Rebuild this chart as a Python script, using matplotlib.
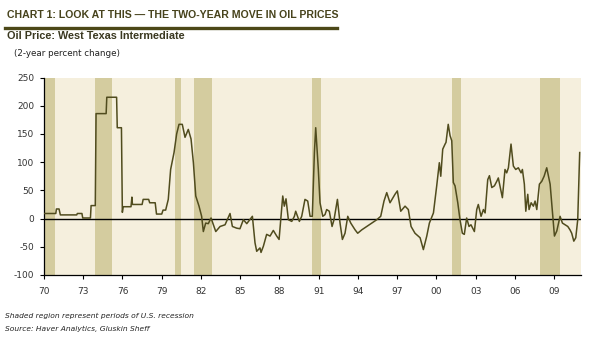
import matplotlib
matplotlib.use("Agg")
import matplotlib.pyplot as plt
from matplotlib.lines import Line2D

# ---------------- data ----------------
years = [
    1970.0, 1970.9, 1970.95, 1971.15, 1971.25, 1972.5, 1972.55, 1972.9, 1972.96, 1973.55,
    1973.6, 1973.92, 1973.98, 1974.75, 1974.8, 1975.55, 1975.6, 1975.92, 1975.99, 1976.05,
    1976.65, 1976.72, 1976.76, 1977.5, 1977.58, 1978.0, 1978.08, 1978.5, 1978.6, 1979.0,
    1979.1, 1979.3, 1979.5, 1979.68, 1979.94, 1980.14, 1980.32, 1980.57, 1980.78, 1981.03,
    1981.24, 1981.42, 1981.6, 1981.85, 1982.05, 1982.18, 1982.36, 1982.56, 1982.77, 1983.13,
    1983.46, 1983.84, 1984.22, 1984.4, 1984.73, 1984.98, 1985.24, 1985.5, 1985.93, 1986.13,
    1986.26, 1986.51, 1986.59, 1986.77, 1987.02, 1987.28, 1987.53, 1987.79, 1987.97, 1988.12,
    1988.25, 1988.37, 1988.5, 1988.68, 1988.94, 1989.14, 1989.24, 1989.52, 1989.7, 1989.95,
    1990.16, 1990.34, 1990.51, 1990.67, 1990.77, 1990.97, 1991.1, 1991.31, 1991.48, 1991.61,
    1991.81, 1992.02, 1992.17, 1992.43, 1992.63, 1992.81, 1993.01, 1993.22, 1993.45, 1993.78,
    1993.98, 1994.29, 1994.67, 1995.05, 1995.44, 1995.74, 1995.99, 1996.2, 1996.45, 1996.83,
    1997.01, 1997.27, 1997.6, 1997.85, 1998.06, 1998.36, 1998.75, 1999.0, 1999.26, 1999.46,
    1999.77, 2000.02, 2000.22, 2000.33, 2000.48, 2000.66, 2000.73, 2000.9, 2001.04, 2001.17,
    2001.29, 2001.42, 2001.63, 2001.8, 2001.98, 2002.13, 2002.31, 2002.49, 2002.64, 2002.9,
    2003.08, 2003.2, 2003.41, 2003.59, 2003.72, 2003.92, 2004.05, 2004.23, 2004.43, 2004.61,
    2004.73, 2005.04, 2005.24, 2005.37, 2005.5, 2005.7, 2005.88, 2006.06, 2006.26, 2006.47,
    2006.57, 2006.72, 2006.83, 2006.98, 2007.08, 2007.24, 2007.41, 2007.54, 2007.67, 2007.87,
    2008.05, 2008.23, 2008.43, 2008.69, 2008.87, 2009.02, 2009.2, 2009.45, 2009.63, 2009.83,
    2010.04, 2010.21, 2010.34, 2010.5, 2010.65, 2010.8, 2010.95,
]
pct_change = [
    9, 9, 17, 17, 6.5, 6.5, 9, 9, 1, 1,
    23, 23, 186, 186, 215, 215, 161, 161, 11, 21,
    21, 38, 25, 25, 34, 34, 28, 28, 8, 8,
    15, 15, 34, 87, 117, 150, 167, 167, 144, 158,
    141, 99, 40, 22, 4, -23, -8, -9, 1, -23,
    -14, -11, 9, -14, -17, -18, -2, -9, 4, -43,
    -58, -52, -60, -49, -28, -31, -21, -31, -37, 4,
    40, 22, 35, -2, -5, 4, 13, -5, 4, 34,
    31, 4, 4, 117, 161, 87, 28, 4, 7, 16,
    13, -14, -2, 34, -8, -37, -26, 4, -8, -20,
    -26, -20, -14, -8, -2, 4, 31, 46, 28, 43,
    49, 13, 22, 16, -14, -26, -34, -55, -31, -8,
    10, 58, 99, 75, 123, 132, 135, 167, 147, 138,
    64, 58, 28, -2, -26, -28, 1, -14, -11, -23,
    16, 25, 4, 16, 10, 69, 76, 55, 58, 66,
    72, 37, 87, 81, 90, 132, 93, 87, 90, 81,
    87, 61, 13, 43, 16, 28, 22, 31, 16, 61,
    66, 75, 90, 61, 10, -31, -22, 4, -8, -11,
    -14, -20, -26, -40, -34, -2, 117,
]
recession_start = [1969.92, 1973.87, 1980.0, 1981.5, 1990.5, 2001.17, 2007.92]
recession_end = [1970.87, 1975.17, 1980.5, 1982.87, 1991.17, 2001.87, 2009.46]
tick_years = [1970, 1973, 1976, 1979, 1982, 1985, 1988, 1991, 1994, 1997, 2000, 2003, 2006, 2009]
tick_labels = ["70", "73", "76", "79", "82", "85", "88", "91", "94", "97", "00", "03", "06", "09"]
y_ticks = [-100, -50, 0, 50, 100, 150, 200, 250]

# ---------------- figure ----------------
W, H = 596, 339
fig = plt.figure(figsize=(W / 100, H / 100), dpi=100)
fig.patch.set_facecolor("white")

def fx(px):
    return px / W

def fy(py):
    return 1 - py / H

left, right, top, bottom = 44, 581, 77.5, 275
ax = fig.add_axes([fx(left), fy(bottom), (right - left) / W, (bottom - top) / H])
ax.set_facecolor("#f5efdd")

for s, e in zip(recession_start, recession_end):
    ax.axvspan(s, e, color="#d4cc9f", lw=0, zorder=1)

ax.axhline(0, color="black", lw=1.0, zorder=2)
ax.plot(years, pct_change, color="#504c1e", lw=1.1, zorder=3)

ax.set_xlim(1970, 2011.05)
ax.set_ylim(-100, 250)
ax.set_xticks(tick_years)
ax.set_xticklabels(tick_labels)
ax.set_yticks(y_ticks)
ax.set_yticklabels([str(v) for v in y_ticks])

for side in ["top", "right"]:
    ax.spines[side].set_visible(False)
for side in ["left", "bottom"]:
    ax.spines[side].set_color("black")
    ax.spines[side].set_linewidth(0.9)

ax.tick_params(axis="both", direction="out", length=3, width=0.8, color="black",
               labelsize=6.5, labelcolor="#333333")
ax.tick_params(axis="x", pad=6)
ax.tick_params(axis="y", pad=4)

# ---------------- text ----------------
title_color = "#47431c"
fig.text(fx(7), fy(15.5), "CHART 1: LOOK AT THIS \u2014 THE TWO-YEAR MOVE IN OIL PRICES",
         fontsize=7.6, fontweight="bold", color=title_color, family="Liberation Sans",
         va="center", ha="left")
fig.add_artist(Line2D([fx(5), fx(337)], [fy(27.5), fy(27.5)], color="#4c4818", lw=2.4))
fig.text(fx(7), fy(36), "Oil Price: West Texas Intermediate",
         fontsize=7.8, fontweight="bold", color="#3a3820", family="Liberation Sans",
         va="center", ha="left")
fig.text(fx(14), fy(54), "(2-year percent change)", fontsize=6.3, color="#222222",
         family="DejaVu Sans", va="center", ha="left")
fig.text(fx(5), fy(316), "Shaded region represent periods of U.S. recession",
         fontsize=5.4, style="italic", color="#222222", family="DejaVu Sans",
         va="center", ha="left")
fig.text(fx(5), fy(329), "Source: Haver Analytics, Gluskin Sheff",
         fontsize=5.4, style="italic", color="#222222", family="DejaVu Sans",
         va="center", ha="left")

fig.savefig("out.png", dpi=100, facecolor="white")
